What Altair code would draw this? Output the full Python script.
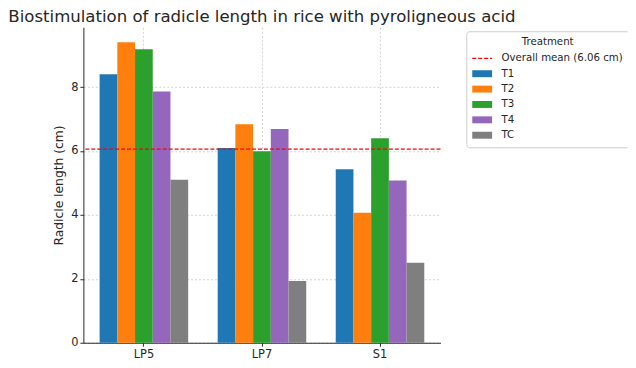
import altair as alt
import pandas as pd

# ---- data ----
sites = ["LP5", "LP7", "S1"]
treatments = ["T1", "T2", "T3", "T4", "TC"]
values_lp5 = [8.40, 9.40, 9.18, 7.86, 5.10]
values_lp7 = [6.09, 6.84, 5.99, 6.69, 1.93]
values_s1 = [5.43, 4.07, 6.40, 5.08, 2.50]
mean_value = 6.06
mean_label = "Overall mean (6.06 cm)"
y_ticks = [0, 2, 4, 6, 8]

bar_colors = ["#1f77b4", "#ff7f0e", "#2ca02c", "#9467bd", "#7f7f7f"]
mean_color = "#ff0000"
text_color = "#262626"
FONT = "DejaVu Sans"

rows = []
for site, vals in zip(sites, [values_lp5, values_lp7, values_s1]):
    for t, v in zip(treatments, vals):
        rows.append({"site": site, "treatment": t, "value": v})
df = pd.DataFrame(rows)
mean_df = pd.DataFrame({"value": [mean_value]})

is_mean = f"datum.value === '{mean_label}'"

color_scale = alt.Scale(domain=[mean_label] + treatments,
                        range=[mean_color] + bar_colors)

legend = alt.Legend(
    title="Treatment",
    orient="none",
    legendX=386,
    legendY=4,
    titleAnchor="middle",
    titleFont=FONT,
    titleFontSize=10.3,
    titleFontWeight="normal",
    titleColor=text_color,
    titlePadding=5,
    labelFont=FONT,
    labelFontSize=10.3,
    labelColor=text_color,
    symbolType=alt.ExprRef(expr=f"{is_mean} ? 'M-2,0H2' : 'M-2,-0.7H2V0.7H-2Z'"),
    symbolSize=100,
    symbolStrokeColor=alt.ExprRef(expr=f"{is_mean} ? '{mean_color}' : 'transparent'"),
    symbolStrokeWidth=1.2,
    symbolDash=[4, 2],
    symbolOpacity=1,
    symbolOffset=4,
    labelOffset=13.4,
    rowPadding=3.5,
    strokeColor="#cccccc",
    fillColor="white",
    cornerRadius=3,
    padding=6,
)

y_scale = alt.Scale(domain=[0, 9.87], nice=False, zero=True)

bars = alt.Chart(df).mark_bar().encode(
    x=alt.X("site:N", sort=sites,
            scale=alt.Scale(paddingInner=0.25, paddingOuter=0.1375),
            axis=alt.Axis(title=None, labelAngle=0, bandPosition=0.5, grid=True)),
    xOffset=alt.XOffset("treatment:N", sort=treatments,
                        scale=alt.Scale(domain=treatments, paddingInner=0, paddingOuter=0)),
    y=alt.Y("value:Q", scale=y_scale,
            axis=alt.Axis(values=y_ticks, title="Radicle length (cm)", grid=True)),
    color=alt.Color("treatment:N", scale=color_scale, legend=legend),
)

rule = alt.Chart(mean_df).mark_rule(
    color=mean_color, strokeDash=[4, 2], strokeWidth=1.2
).encode(y=alt.Y("value:Q", scale=y_scale))

chart = alt.layer(bars, rule).properties(
    width=360,
    height=318,
    autosize=alt.AutoSizeParams(type="none"),
    padding={"left": 76, "top": 18, "right": 189, "bottom": 22},
    title=alt.TitleParams(
        text="Biostimulation of radicle length in rice with pyroligneous acid",
        font=FONT, fontSize=16.7, fontWeight="normal", color=text_color,
        anchor="middle", frame="group", baseline="alphabetic", offset=5, dy=16,
    ),
).configure_view(stroke=None).configure_axis(
    labelFont=FONT, labelFontSize=11.5, labelColor=text_color,
    titleFont=FONT, titleFontSize=12.4, titleFontWeight="normal", titleColor=text_color,
    domainColor=text_color, domainWidth=1, tickColor=text_color, tickSize=3.5,
    labelPadding=2, titlePadding=5,
    gridColor="#b0b0b0", gridDash=[2, 2], gridOpacity=0.7, gridWidth=0.8,
    zindex=1,
)

chart.save("out.html", embed_options={"renderer": "svg", "actions": False})
